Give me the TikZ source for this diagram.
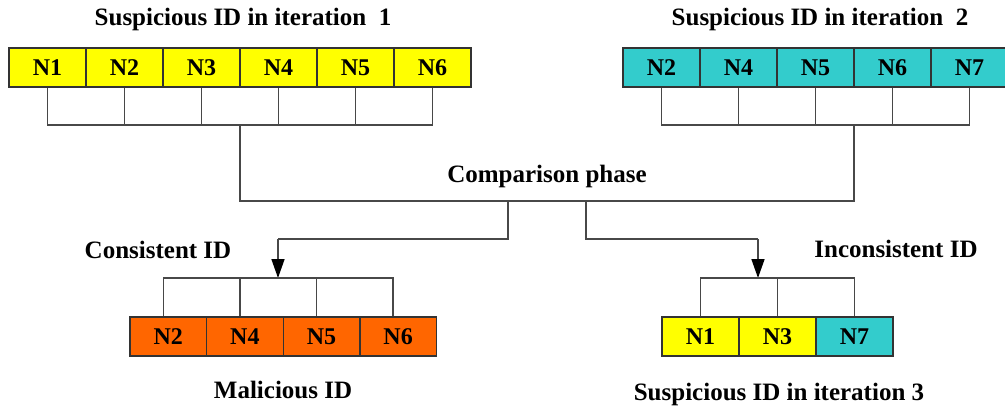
\documentclass[tikz,border=0pt]{standalone}
\usepackage{fontspec}
\setmainfont{Liberation Serif}
\usetikzlibrary{arrows.meta}
\definecolor{idyellow}{HTML}{FFFF00}
\definecolor{idteal}{HTML}{33CCCC}
\definecolor{idorange}{HTML}{FF6600}
\definecolor{wire}{HTML}{484848}
\begin{document}
\begin{tikzpicture}[x=1pt,y=-1pt,
  cell/.style={draw=black!80,line width=1.4pt,minimum height=39pt,inner sep=0pt,
    font=\fontsize{24}{28}\selectfont\bfseries,text height=16pt,text depth=0pt},
  cellA/.style={cell,minimum width=77pt},
  cellB/.style={cell,minimum width=76.6pt},
  lbl/.style={font=\fontsize{25}{30}\selectfont\bfseries,anchor=base,inner sep=0pt},
  wire/.style={draw=wire,line width=1.6pt},
  arr/.style={wire,-{Triangle[width=13pt,length=19pt,color=black]}}]
\useasboundingbox (0,0) rectangle (1005,412);

% headings and labels
\node[lbl] (h1) at (243,26) {Suspicious ID in iteration \ 1};
\node[lbl] (h2) at (820,26) {Suspicious ID in iteration \ 2};
\node[lbl] (cmp) at (547,182) {Comparison phase};
\node[lbl] (cons) at (158,258) {Consistent ID};
\node[lbl] (incons) at (896,257) {Inconsistent ID};
\node[lbl] (mal) at (283,398) {Malicious ID};
\node[lbl] (h3) at (779,400) {Suspicious ID in iteration 3};

% iteration 1 list
\foreach \n [count=\i] in {N1,N2,N3,N4,N5,N6}
  \node[cellA,fill=idyellow] (a\i) at ({47.5+77*(\i-1)},67.5) {\n};
% iteration 2 list
\foreach \n [count=\i] in {N2,N4,N5,N6,N7}
  \node[cellA,fill=idteal] (b\i) at ({661.5+77*(\i-1)},67.5) {\n};
% malicious list
\foreach \n [count=\i] in {N2,N4,N5,N6}
  \node[cellB,fill=idorange] (m\i) at ({168.3+76.6*(\i-1)},336.5) {\n};
% iteration 3 list
\node[cellA,fill=idyellow] (s1) at (700.5,336.5) {N1};
\node[cellA,fill=idyellow] (s2) at (777.5,336.5) {N3};
\node[cellA,fill=idteal]   (s3) at (854.5,336.5) {N7};

% bus junctions
\coordinate (busA) at (240,125);
\coordinate (busB) at (854,125);
\coordinate (joinA) at (240,201);
\coordinate (joinB) at (854,201);
\coordinate (splitL) at (508,201);
\coordinate (splitR) at (586,201);
\coordinate (turnL) at (508,239);
\coordinate (turnR) at (586,239);
\coordinate (cornL) at (278,239);
\coordinate (cornR) at (758,239);
\coordinate (tipL) at (278,278);
\coordinate (tipR) at (758,278);

% stems of the upper lists
\foreach \i in {1,...,6} \draw[wire] (a\i.south) -- ++(0,38);
\draw[wire] (a1.south |- busA) -- (a6.south |- busA);
\foreach \i in {1,...,5} \draw[wire] (b\i.south) -- ++(0,38);
\draw[wire] (b1.south |- busB) -- (b5.south |- busB);

% comparison stage
\draw[wire] (busA) -- (joinA) -- (joinB) -- (busB);
\draw[wire] (splitL) -- (turnL) -- (cornL);
\draw[arr] (cornL) -- (tipL);
\draw[wire] (splitR) -- (turnR) -- (cornR);
\draw[arr] (cornR) -- (tipR);

% stems of the lower lists
\foreach \i in {1,...,4} \draw[wire] ([xshift=-5pt]m\i.north) -- ++(0,-39);
\draw[wire] ([xshift=-5pt]m1.north |- tipL) -- ([xshift=-5pt]m4.north |- tipL);
\foreach \i in {1,...,3} \draw[wire] (s\i.north) -- ++(0,-39);
\draw[wire] (s1.north |- tipR) -- (s3.north |- tipR);
\end{tikzpicture}
\end{document}
